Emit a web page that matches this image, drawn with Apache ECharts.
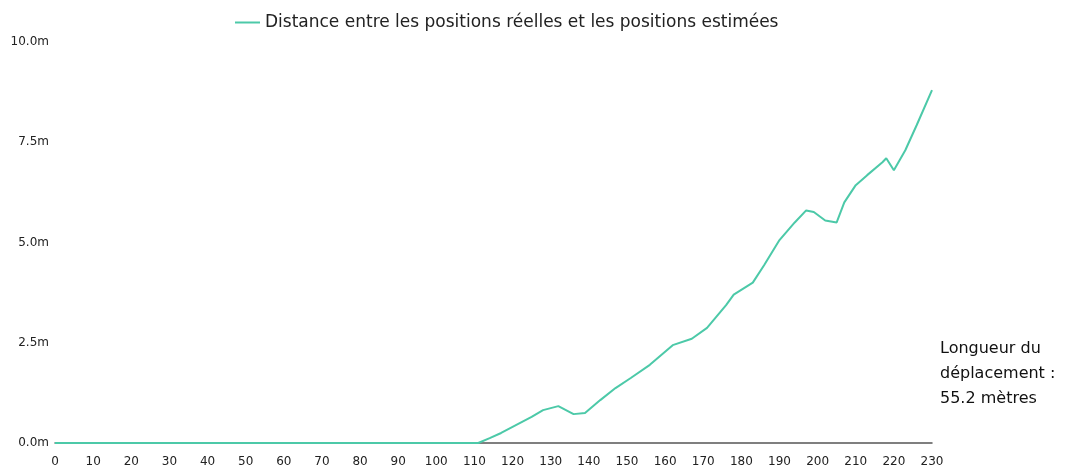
<!DOCTYPE html>
<html>
<head>
<meta charset="utf-8">
<script src="https://cdn.jsdelivr.net/npm/echarts@6/dist/echarts.min.js"></script>
<style>
  html, body { margin: 0; padding: 0; background: #fff; }
  #chart { width: 1070px; height: 475px; }
</style>
</head>
<body>
<div id="chart"></div>
<script>
// sample index along the path (x) and error in metres (y)
const sampleIndex = [0, 111, 114, 117, 121, 125, 128, 132, 134, 136, 139, 143, 147, 151, 156, 162, 167, 171, 176, 178, 183, 186, 190, 194, 197, 199, 202, 205, 207, 210, 213, 217, 218, 220, 223, 226, 230];
const errorMetres = [0, 0, 0.12, 0.25, 0.45, 0.65, 0.82, 0.92, 0.82, 0.72, 0.75, 1.07, 1.37, 1.62, 1.95, 2.44, 2.6, 2.87, 3.44, 3.7, 4.0, 4.44, 5.06, 5.5, 5.8, 5.76, 5.55, 5.5, 6.0, 6.43, 6.68, 7.0, 7.1, 6.8, 7.3, 7.93, 8.8];
const seriesName = 'Distance entre les positions réelles et les positions estimées';
const noteLines = ['Longueur du', 'déplacement :', '55.2 mètres'];

const lineColor = '#4cc9a8';
const textFont = {
  color: '#222',
  fontFamily: 'DejaVu Sans, sans-serif',
};

const points = sampleIndex.map((x, i) => [x, errorMetres[i]]);

const chart = echarts.init(document.getElementById('chart'));

const chartDescription = {
  animation: false,
  backgroundColor: '#fff',
  legend: {
    top: 9,
    left: 230,
    itemWidth: 25,
    itemHeight: 14,
    itemGap: 10,
    textStyle: { ...textFont, fontSize: 17 },
    data: [{ name: seriesName, icon: 'path://M0,6 L25,6 L25,8 L0,8 Z' }],
  },
  grid: {
    left: 55,
    right: 138,
    top: 42,
    bottom: 32,
  },
  xAxis: {
    type: 'value',
    min: 0,
    max: 230,
    interval: 10,
    axisLine: { show: true, lineStyle: { color: '#555', width: 1.5 } },
    axisTick: { show: false },
    splitLine: { show: false },
    axisLabel: { ...textFont, fontSize: 12, margin: 13 },
  },
  yAxis: {
    type: 'value',
    min: 0,
    max: 10,
    interval: 2.5,
    axisLine: { show: false },
    axisTick: { show: false },
    splitLine: { show: false },
    axisLabel: {
      ...textFont,
      fontSize: 12,
      margin: 6,
      formatter: (v) => `${v.toFixed(1)}m`,
    },
  },
  series: [
    {
      name: seriesName,
      type: 'line',
      data: points,
      showSymbol: false,
      lineStyle: { color: lineColor, width: 2 },
      itemStyle: { color: lineColor },
    },
  ],
  graphic: [
    {
      type: 'text',
      left: 940,
      top: 336,
      style: {
        text: noteLines.join('\n'),
        ...textFont,
        fill: '#111',
        fontSize: 16,
        lineHeight: 25,
      },
    },
  ],
};

chart.setOption(chartDescription);
</script>
</body>
</html>
